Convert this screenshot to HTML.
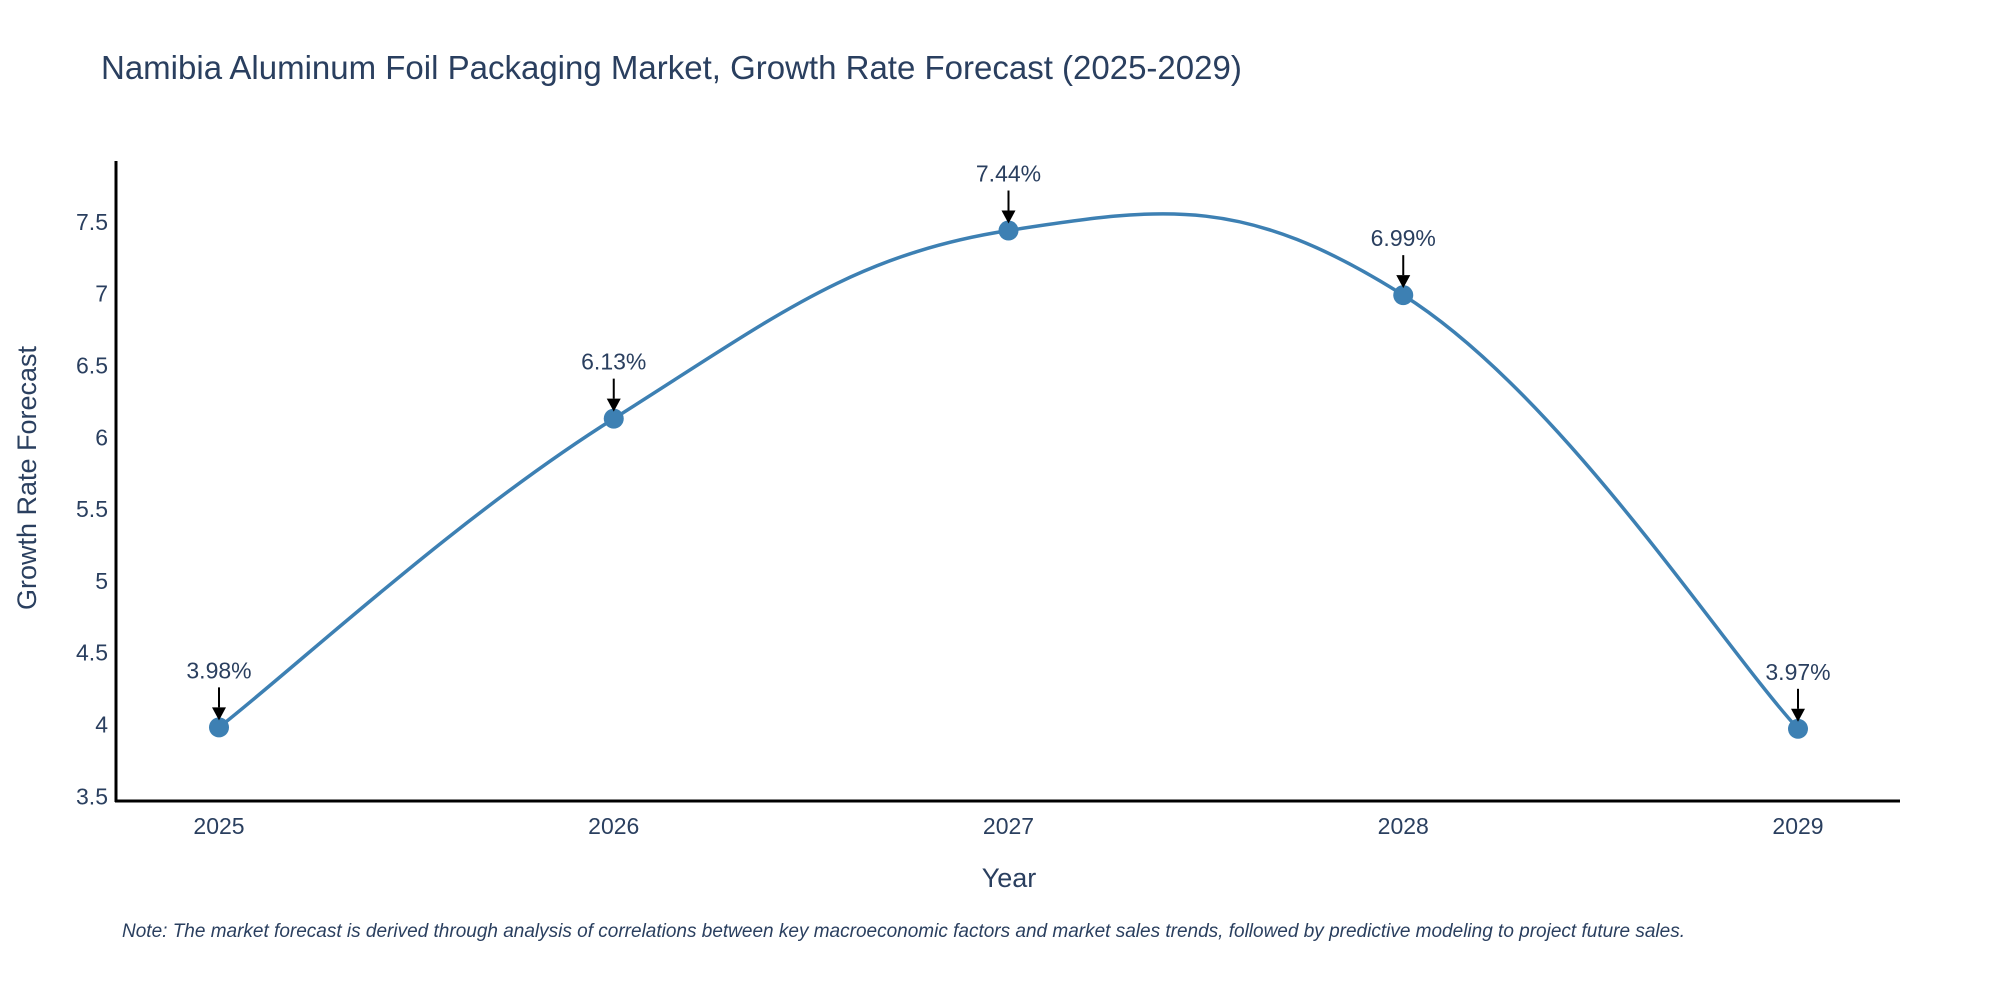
<!DOCTYPE html>
<html><head><meta charset="utf-8"><style>
body{margin:0;background:#fff;}
svg text{font-family:"Liberation Sans",sans-serif;}
</style></head><body>
<svg id="chart" width="2000" height="1000" xmlns="http://www.w3.org/2000/svg">
<rect width="2000" height="1000" fill="#fff"/>
<text x="101" y="79" font-size="33" fill="#2a3f5f">Namibia Aluminum Foil Packaging Market, Growth Rate Forecast (2025-2029)</text>
<g id="plot"></g>
<text x="1009" y="887" font-size="27" fill="#2a3f5f" text-anchor="middle">Year</text>
<text transform="translate(36,478) rotate(-90)" font-size="27" fill="#2a3f5f" text-anchor="middle">Growth Rate Forecast</text>
<text x="122" y="937" font-size="19" font-style="italic" fill="#2a3f5f">Note: The market forecast is derived through analysis of correlations between key macroeconomic factors and market sales trends, followed by predictive modeling to project future sales.</text>
</svg>
<script>
const years = [2025, 2026, 2027, 2028, 2029];
const values = [3.98, 6.13, 7.44, 6.99, 3.97];
const labels = ["3.98%", "6.13%", "7.44%", "6.99%", "3.97%"];
const yTicks = [3.5, 4, 4.5, 5, 5.5, 6, 6.5, 7, 7.5];
const yTickLabels = ["3.5", "4", "4.5", "5", "5.5", "6", "6.5", "7", "7.5"];

const NS = "http://www.w3.org/2000/svg";
const g = document.getElementById('plot');
const X0 = 116, X1 = 1900, YB = 801, YT = 161;
function xs(v){ return 219 + (v - 2025) * (1798 - 219) / 4; }
function ys(v){ return 724.5 - (v - 4) * 143.6; }
function mk(tag, attrs){ const e = document.createElementNS(NS, tag); for (const k in attrs) e.setAttribute(k, attrs[k]); g.appendChild(e); return e; }

// axes
let ax = mk('line', {x1: X0, y1: YT, x2: X0, y2: YB + 1, stroke: '#000', 'stroke-width': 3});


ax = mk('line', {x1: X0 - 1, y1: YB, x2: X1, y2: YB, stroke: '#000', 'stroke-width': 3});



yTicks.forEach((t, i) => {
  const tx = mk('text', {x: X0 - 8, y: ys(t) + 8, 'font-size': 23, fill: '#2a3f5f', 'text-anchor': 'end'});
  tx.textContent = yTickLabels[i];
  
  
});
years.forEach(y => {
  const tx = mk('text', {x: xs(y), y: 834, 'font-size': 23, fill: '#2a3f5f', 'text-anchor': 'middle'});
  tx.textContent = String(y);
  
  
});

// spline (Catmull-Rom)
const pts = years.map((y, i) => [xs(y), ys(values[i])]);
let d = 'M' + pts[0][0] + ',' + pts[0][1];
const s = 0.2;
for (let i = 0; i < pts.length - 1; i++) {
  const p0 = pts[Math.max(0, i - 1)], p1 = pts[i], p2 = pts[i + 1], p3 = pts[Math.min(pts.length - 1, i + 2)];
  const c1 = [p1[0] + (p2[0] - p0[0]) * s, p1[1] + (p2[1] - p0[1]) * s];
  const c2 = [p2[0] - (p3[0] - p1[0]) * s, p2[1] - (p3[1] - p1[1]) * s];
  d += ' C' + c1 + ' ' + c2 + ' ' + p2;
}
const line = mk('path', {d: d, fill: 'none', stroke: '#3d80b3', 'stroke-width': 3.5});



pts.forEach((p, i) => {
  const c = mk('circle', {cx: p[0], cy: p[1], r: 10, fill: '#3d80b3'});
  
  
  const a = mk('line', {x1: p[0], y1: p[1] - 40, x2: p[0], y2: p[1] - 20, stroke: '#000', 'stroke-width': 2});
  
  
  const h = mk('polygon', {points: (p[0]-7)+','+(p[1]-20)+' '+(p[0]+7)+','+(p[1]-20)+' '+p[0]+','+(p[1]-7), fill: '#000'});
  
  
  const t = mk('text', {x: p[0], y: p[1] - 49, 'font-size': 23, fill: '#2a3f5f', 'text-anchor': 'middle'});
  t.textContent = labels[i];
  
  
});
</script>
</body></html>
